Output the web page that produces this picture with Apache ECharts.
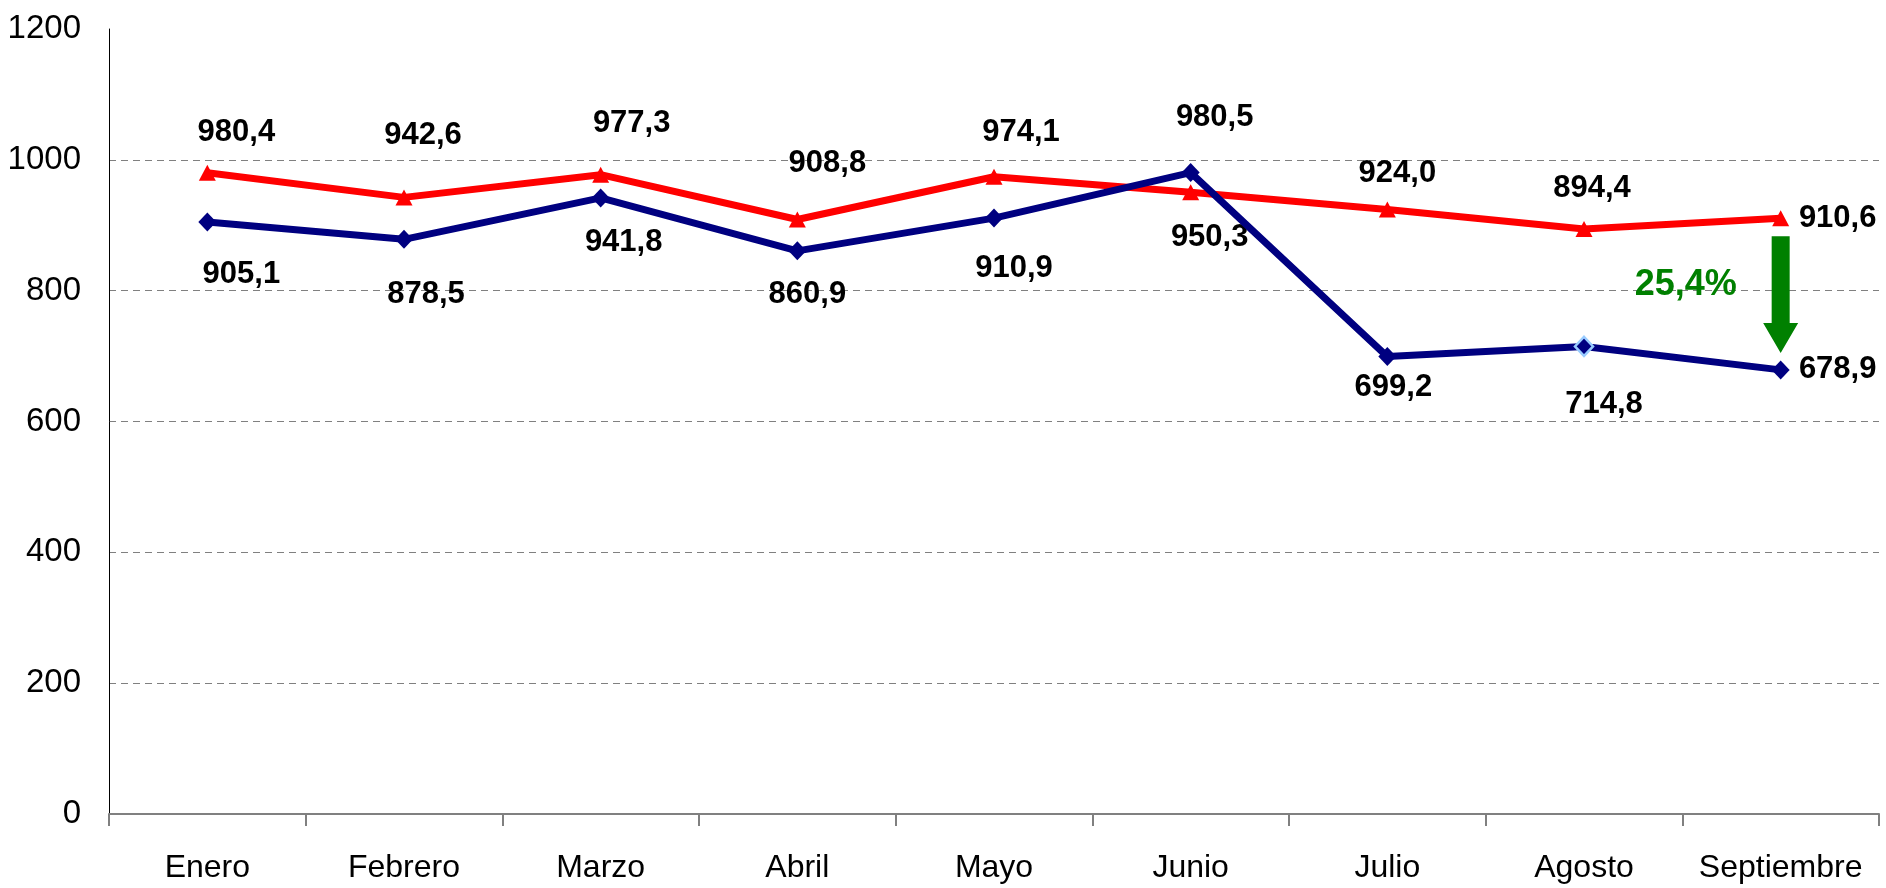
<!DOCTYPE html>
<html>
<head>
<meta charset="utf-8">
<script src="https://cdn.jsdelivr.net/npm/echarts@6/dist/echarts.min.js"></script>
<style>
html,body{margin:0;padding:0;background:#fff;}
#chart{width:1886px;height:888px;}
</style>
</head>
<body>
<div id="chart"></div>
<script>
// ---- data ----
const categories = ['Enero', 'Febrero', 'Marzo', 'Abril', 'Mayo', 'Junio', 'Julio', 'Agosto', 'Septiembre'];
const seriesRed = [980.4, 942.6, 977.3, 908.8, 974.1, 950.3, 924.0, 894.4, 910.6];
const seriesBlue = [905.1, 878.5, 941.8, 860.9, 910.9, 980.5, 699.2, 714.8, 678.9];
const yMin = 0;
const yMax = 1200;
const yInterval = 200;
const dropLabel = '25,4%';

// ---- label placement (style only) ----
const redOffsets = [[29,-40],[19,-62],[31,-51],[30,-56],[27,-44],[19,45],[10,-36],[8,-40],[57,0]];
const blueOffsets = [[34,53],[22,55],[23,45],[10,44],[20,50],[24,-55],[6,31],[20,58],[57,0]];

const fmt = v => v.toFixed(1).replace('.', ',');
const narrow = "'Liberation Sans Narrow', 'Arial Narrow', 'Liberation Sans', Arial, sans-serif";
const sans = "'Liberation Sans', Arial, sans-serif";

function buildData(values, offsets, special) {
  return values.map((v, i) => {
    const d = {
      value: v,
      label: { offset: offsets[i] }
    };
    if (special && special[i]) d.itemStyle = special[i];
    return d;
  });
}

const chart = echarts.init(document.getElementById('chart'), null, { renderer: 'canvas' });

const labelBase = {
  show: true,
  position: 'inside',
  formatter: p => fmt(p.value),
  color: '#000',
  fontFamily: sans,
  fontWeight: 'bold',
  fontSize: 31
};

chart.setOption({
  animation: false,
  backgroundColor: '#fff',
  grid: { left: 109, right: 7, top: 29, bottom: 74, containLabel: false, outerBoundsMode: 'none' },
  xAxis: {
    type: 'category',
    data: categories,
    boundaryGap: true,
    axisLine: { show: true, lineStyle: { color: '#808080', width: 2 } },
    axisTick: { show: true, length: 12, lineStyle: { color: '#808080', width: 2 } },
    axisLabel: { color: '#000', fontFamily: narrow, fontSize: 32, margin: 38, interval: 0, hideOverlap: false },
    splitLine: { show: false }
  },
  yAxis: {
    type: 'value',
    min: yMin,
    max: yMax,
    interval: yInterval,
    axisLine: { show: true, lineStyle: { color: '#000', width: 1 } },
    axisTick: { show: false },
    axisLabel: { color: '#000', fontFamily: narrow, fontSize: 33, margin: 28, formatter: v => String(v) },
    splitLine: {
      show: true,
      showMinLine: false,
      showMaxLine: false,
      lineStyle: { color: '#808080', type: [7, 5], width: 1 }
    }
  },
  series: [
    {
      name: 'Rojo',
      type: 'line',
      data: buildData(seriesRed, redOffsets),
      symbol: 'triangle',
      symbolSize: [17, 16],
      z: 2,
      lineStyle: { color: '#FF0000', width: 7 },
      itemStyle: { color: '#FF0000' },
      label: labelBase
    },
    {
      name: 'Azul',
      type: 'line',
      data: buildData(seriesBlue, blueOffsets, { 7: { color: '#000080', borderColor: '#99CCFF', borderWidth: 2.5 } }),
      symbol: 'diamond',
      symbolSize: [18, 19],
      z: 3,
      lineStyle: { color: '#000080', width: 7 },
      itemStyle: { color: '#000080' },
      label: labelBase
    }
  ]
});

function drawArrow() {
  const last = categories.length - 1;
  const top = chart.convertToPixel({ xAxisIndex: 0, yAxisIndex: 0 }, [last, seriesRed[last]]);
  const bot = chart.convertToPixel({ xAxisIndex: 0, yAxisIndex: 0 }, [last, seriesBlue[last]]);
  const cx = top[0];
  const y0 = top[1] + 18;
  const y1 = bot[1] - 17;
  const headStart = y1 - 30;
  const sw = 9, hw = 17.5;
  chart.setOption({
    graphic: [
      {
        type: 'polygon',
        shape: { points: [
          [cx - sw, y0], [cx + sw, y0], [cx + sw, headStart], [cx + hw, headStart],
          [cx, y1], [cx - hw, headStart], [cx - sw, headStart]
        ] },
        style: { fill: '#008000' },
        z: 10
      },
      {
        type: 'text',
        x: cx - 95,
        y: (y0 + y1) / 2 - 10,
        style: {
          text: dropLabel,
          fill: '#008000',
          font: "bold 36px " + sans,
          align: 'center',
          verticalAlign: 'middle'
        },
        z: 10
      }
    ]
  });
}
drawArrow();
</script>
</body>
</html>
